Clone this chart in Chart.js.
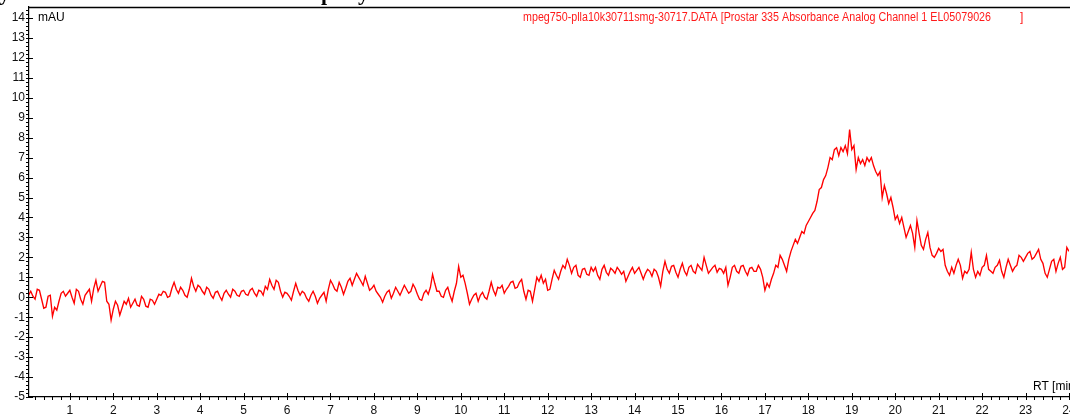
<!DOCTYPE html>
<html>
<head>
<meta charset="utf-8">
<script src="https://cdn.jsdelivr.net/npm/chart.js@4"></script>
<style>
  html, body { margin: 0; padding: 0; background: #fff; overflow: hidden; }
  #wrap { position: relative; width: 1070px; height: 414px; }
  canvas { display: block; }
</style>
</head>
<body>
<div id="wrap"><canvas id="c" width="1070" height="414"></canvas></div>
<script>
// ---- data (one value every 0.05 min) ----
const sampleStart = 0.0;   // min
const sampleStep = 0.05;   // min
const absorbance = [
  0.4,
  0.1,0.3,0.05,-0.1,0.4,0.35,-0.1,-0.55,-0.5,0.05,0.1,-0.95,-0.5,-0.65,-0.2,0.2,0.3,0.05,0.2,0.35,
  0.0,-0.3,0.4,0.3,-0.1,-0.35,0.1,0.25,0.4,-0.2,0.45,0.85,0.3,0.55,0.8,0.75,-0.2,-0.35,-1.15,-0.6,
  -0.2,-0.4,-0.9,-0.55,-0.2,-0.35,-0.05,-0.5,-0.3,-0.1,-0.4,-0.45,0.05,-0.1,-0.45,-0.5,-0.1,-0.15,-0.35,-0.1,
  0.15,0.1,0.3,0.25,0.0,0.05,0.45,0.75,0.4,0.2,0.5,0.35,0.1,0.0,0.4,0.95,0.55,0.3,0.6,0.5,
  0.3,0.15,0.5,0.4,0.1,-0.05,0.25,0.3,0.05,-0.15,0.2,0.35,0.15,0.0,0.4,0.3,0.1,0.05,0.3,0.35,
  0.15,0.1,0.35,0.45,0.2,0.05,0.35,0.3,0.1,0.55,0.4,0.9,0.6,0.4,0.85,0.75,0.3,0.0,0.25,0.2,
  0.05,-0.15,0.3,0.7,0.35,0.1,0.3,0.2,-0.05,-0.2,0.1,0.3,0.05,-0.3,-0.05,0.1,0.25,-0.2,0.4,0.85,
  0.65,0.4,0.3,0.75,0.5,0.15,0.45,0.8,0.95,0.6,0.9,1.2,1.0,0.8,0.6,1.05,0.7,0.35,0.45,0.6,
  0.3,0.15,0.0,-0.25,0.05,0.25,0.35,-0.05,0.2,0.5,0.3,0.1,0.35,0.6,0.4,0.2,0.3,0.65,0.45,0.15,
  -0.1,-0.15,0.2,0.35,0.15,0.5,1.15,0.7,0.3,0.3,0.05,0.0,0.35,0.5,0.1,-0.2,0.3,0.7,1.55,1.0,
  1.1,0.7,0.2,-0.35,-0.1,0.1,0.2,-0.2,0.1,0.25,0.0,-0.1,0.3,0.75,0.35,0.1,0.5,0.45,0.6,0.2,
  0.4,0.55,0.75,0.8,0.45,0.5,0.75,0.9,0.3,-0.1,0.35,0.3,-0.2,0.4,1.0,0.8,1.1,0.7,0.9,0.35,
  0.4,0.9,1.35,1.1,0.9,1.3,1.6,1.45,1.9,1.6,1.2,1.5,1.6,1.1,1.0,1.4,1.45,1.15,1.1,1.5,
  1.3,1.5,1.1,0.9,1.4,1.6,1.25,1.1,1.45,1.35,1.2,1.5,1.35,1.15,1.3,0.8,1.05,1.3,1.5,1.2,
  1.35,1.5,1.2,0.9,1.2,1.4,1.3,1.05,1.4,1.3,1.0,0.55,1.3,1.8,1.4,1.2,1.55,1.6,1.25,1.0,
  1.4,1.7,1.3,1.1,1.5,1.6,1.3,1.2,1.65,1.5,1.35,2.0,1.6,1.2,1.35,1.5,1.6,1.25,1.45,1.4,
  1.2,1.5,0.6,1.0,1.5,1.6,1.3,1.2,1.55,1.6,1.3,1.1,1.45,1.5,1.3,1.3,1.6,1.4,1.0,0.35,
  0.7,0.5,0.9,1.2,1.6,1.5,2.1,1.9,1.6,1.3,1.9,2.3,2.6,2.9,2.7,3.0,3.3,3.2,3.6,3.8,
  4.0,4.2,4.35,4.8,5.4,5.5,5.9,6.1,6.5,7.0,6.9,7.4,7.5,7.1,7.5,7.3,7.6,7.2,8.4,7.4,
  7.6,6.4,7.0,6.7,6.9,6.6,7.0,6.8,7.0,6.6,6.3,6.1,6.3,5.0,5.6,5.2,4.7,5.0,4.5,3.9,
  4.1,3.7,4.0,3.5,3.0,3.3,3.6,3.2,2.5,3.85,3.2,2.6,2.4,2.9,3.25,2.5,2.1,2.0,2.2,2.45,
  2.3,2.4,1.6,1.3,1.1,1.5,1.2,1.6,1.9,1.6,0.95,1.3,1.2,1.4,2.25,1.4,1.0,1.3,1.1,1.5,
  1.6,2.1,1.4,1.3,1.2,1.5,1.6,1.85,1.3,1.0,1.5,1.9,1.6,1.3,1.5,1.6,2.1,2.0,1.8,2.0,
  2.2,2.3,1.9,2.0,2.2,2.4,1.9,1.7,1.2,1.0,1.4,1.8,1.9,1.3,1.7,2.0,1.4,1.5,2.5,2.3
];
const xRange = [0.06, 24.0];
const yRange = [-5, 14.55];
const xTickValues = [1,2,3,4,5,6,7,8,9,10,11,12,13,14,15,16,17,18,19,20,21,22,23,24];
const yTickValues = [-5,-4,-3,-2,-1,0,1,2,3,4,5,6,7,8,9,10,11,12,13,14];
const yAxisUnit = "mAU";
const xAxisTitle = "RT [min";
const traceTitle = "mpeg750-plla10k30711smg-30717.DATA [Prostar 335 Absorbance Analog Channel 1 EL05079026";
const traceTitleEnd = "]";

const points = absorbance.map((v, i) => ({ x: sampleStart + i * sampleStep, y: v }));

const FONT = "'Liberation Sans', Arial, sans-serif";

const decor = {
  id: 'decor',
  afterDraw(chart) {
    const ctx = chart.ctx;
    const a = chart.chartArea;
    const xs = chart.scales.x, ys = chart.scales.y;
    ctx.save();
    // cut-off heading above the chart (only descenders visible)
    ctx.fillStyle = '#000';
    ctx.font = 'bold 22px "Liberation Serif", "Times New Roman", serif';
    ctx.textBaseline = 'alphabetic';
    ctx.textAlign = 'left';
    ctx.fillText('y', -1, 0);
    ctx.fillText('p', 321, 0);
    ctx.fillText('y', 358, 0);

    ctx.strokeStyle = '#000';
    ctx.lineWidth = 1.3;
    // top border
    ctx.beginPath();
    ctx.moveTo(a.left, a.top + 0.5);
    ctx.lineTo(chart.width, a.top + 0.5);
    ctx.stroke();
    ctx.lineWidth = 1;
    // x ticks
    ctx.beginPath();
    for (let k = 0; k <= 120; k++) {
      const v = k * 0.2;
      if (v < xRange[0] || v > xRange[1]) continue;
      const px = Math.round(xs.getPixelForValue(v)) + 0.5;
      const major = k % 5 === 0;
      ctx.moveTo(px, a.bottom + 3);
      ctx.lineTo(px, a.bottom - (major ? 4 : 0));
    }
    // y ticks
    for (let k = -25; k <= 72; k++) {
      const v = k * 0.2;
      if (v < yRange[0] - 1e-6 || v > yRange[1]) continue;
      const py = Math.round(ys.getPixelForValue(v)) + 0.5;
      const major = k % 5 === 0;
      ctx.moveTo(a.left - 3, py);
      ctx.lineTo(a.left + (major ? 4 : 0), py);
    }
    ctx.stroke();
    // texts
    ctx.fillStyle = '#000';
    ctx.font = '12px ' + FONT;
    ctx.textBaseline = 'middle';
    ctx.textAlign = 'left';
    ctx.fillText(yAxisUnit, a.left + 9, 18);
    ctx.fillText(xAxisTitle, 1033, 387);
    ctx.fillStyle = '#ff1a1a';
    const targetW = 468;
    const w = ctx.measureText(traceTitle).width;
    ctx.save();
    ctx.translate(523, 18);
    ctx.scale(Math.min(1, targetW / w), 1);
    ctx.fillText(traceTitle, 0, 0);
    ctx.restore();
    ctx.fillText(traceTitleEnd, 1020, 18);
    ctx.restore();
  }
};

function zeroPad(s) { s.paddingTop = 0; s.paddingBottom = 0; s.paddingLeft = 0; s.paddingRight = 0; }

new Chart(document.getElementById('c'), {
  type: 'line',
  data: {
    datasets: [{
      data: points,
      borderColor: '#ff0000',
      borderWidth: 1.35,
      pointRadius: 0,
      tension: 0,
      fill: false
    }]
  },
  options: {
    responsive: false,
    animation: false,
    devicePixelRatio: 1,
    layout: { padding: { top: 7, right: 1, left: 0, bottom: 0 } },
    plugins: { legend: { display: false }, tooltip: { enabled: false }, title: { display: false } },
    scales: {
      x: {
        type: 'linear',
        min: xRange[0], max: xRange[1],
        afterBuildTicks(s) { s.ticks = xTickValues.map(v => ({ value: v })); },
        afterFit(s) { s.height = 17; zeroPad(s); },
        grid: { display: false, drawTicks: false, tickLength: 0 },
        border: { display: true, color: '#000', width: 1.2 },
        ticks: {
          padding: 6, color: '#111',
          font: { family: FONT, size: 12 },
          maxRotation: 0, minRotation: 0, autoSkip: false,
          callback: (v) => String(v)
        }
      },
      y: {
        type: 'linear',
        min: yRange[0], max: yRange[1],
        afterBuildTicks(s) { s.ticks = yTickValues.map(v => ({ value: v })); },
        afterFit(s) { s.width = 29; zeroPad(s); },
        grid: { display: false, drawTicks: false, tickLength: 0 },
        border: { display: true, color: '#000', width: 1.2 },
        ticks: {
          padding: 4, color: '#111',
          font: { family: FONT, size: 12 },
          autoSkip: false,
          callback: (v) => String(v)
        }
      }
    }
  },
  plugins: [decor]
});
</script>
</body>
</html>
